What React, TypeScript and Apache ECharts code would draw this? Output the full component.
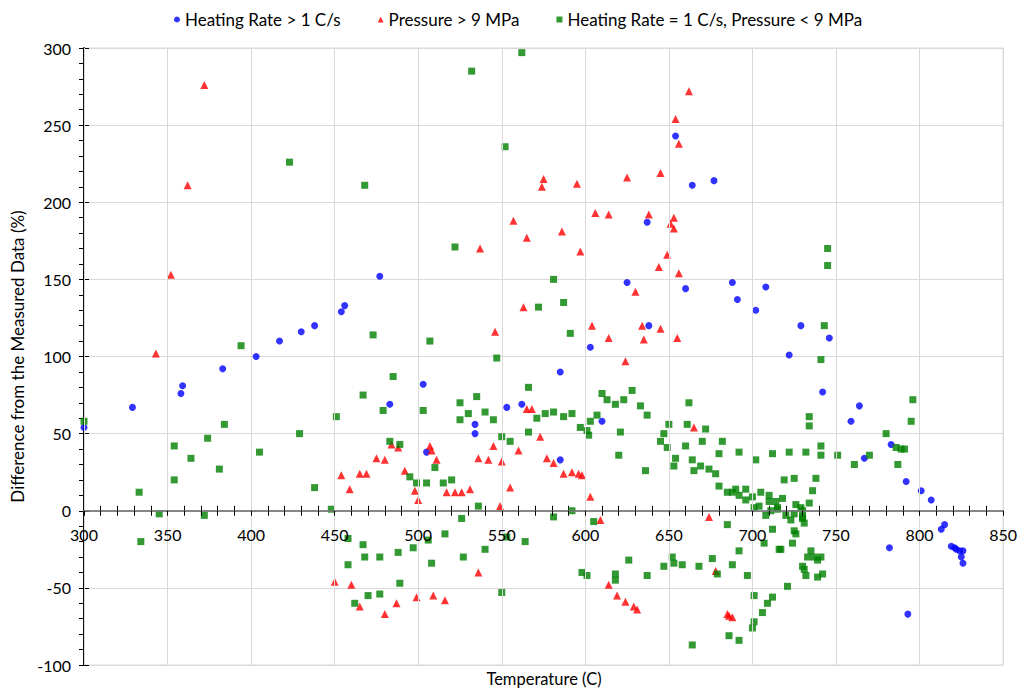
import React, { useEffect, useRef } from "react";
import * as echarts from "echarts";

const xTicks = { min: 300, max: 850, interval: 50 };
const yTicks = { min: -100, max: 300, interval: 50 };

const seriesNames = [
  "Heating Rate > 1 C/s",
  "Pressure > 9 MPa",
  "Heating Rate = 1 C/s, Pressure < 9 MPa",
];

const heatingRateHigh: [number, number][] = [
  [300, 54], [329, 67], [358, 76], [359, 81], [383, 92], [403, 100], [417, 110], [430, 116],
  [438, 120], [454, 129], [456, 133], [477, 152], [483, 69], [503, 82], [505, 38], [534, 56],
  [534, 50], [553, 67], [562, 69], [585, 90], [585, 33], [603, 106], [610, 58], [625, 148],
  [637, 187], [638, 120], [654, 243], [660, 144], [664, 211], [677, 214], [688, 148], [691, 137],
  [702, 130], [708, 145], [722, 101], [729, 120], [742, 77], [746, 112], [759, 58], [764, 68],
  [767, 34], [783, 43], [782, -24], [792, 19], [793, -67], [801, 13], [807, 7], [813, -12],
  [815, -9], [819, -23], [821, -24], [822, -25], [824, -26], [826, -26], [825, -30], [826, -34],
];

const pressureHigh: [number, number][] = [
  [343, 102], [352, 153], [362, 211], [372, 276], [450, -46], [454, 23], [459, 14], [460, -48],
  [465, 24], [465, -62], [469, 24], [475, 34], [480, 33], [480, -67], [484, 43], [487, -60],
  [488, 41], [492, 26], [498, 13], [499, -56], [500, 7], [507, 42], [508, 39], [509, -55],
  [511, 33], [516, -58], [517, 12], [522, 12], [526, 12], [531, 14], [536, 34], [536, -40],
  [537, 170], [542, 33], [545, 42], [546, 116], [549, 3], [550, 32], [555, 15], [557, 188],
  [560, 39], [563, 132], [565, 177], [565, 66], [568, 66], [573, 48], [574, 210], [575, 215],
  [577, 34], [581, 31], [586, 181], [587, 24], [592, 25], [595, 212], [596, 24], [598, 23],
  [597, 168], [603, 9], [604, 120], [606, 193], [609, -6], [614, 192], [614, 112], [614, -48],
  [619, -55], [624, 97], [624, -59], [625, 216], [629, -62], [631, -64], [630, 142], [634, 120],
  [635, 111], [638, 192], [644, 158], [645, 219], [645, 118], [649, 166], [651, 186], [653, 190],
  [653, 183], [654, 254], [655, 112], [656, 238], [656, 154], [662, 272], [665, 54], [674, -4],
  [678, -39], [685, -67], [686, -68], [688, -69],
];

const baseline: [number, number][] = [
  [300, 58], [384, 56], [374, 47], [354, 42], [429, 50], [405, 38], [364, 34], [381, 27],
  [438, 15], [354, 20], [333, 12], [345, -2], [372, -3], [334, -20], [394, 107], [423, 226],
  [562, 297], [532, 285], [552, 236], [468, 211], [522, 171], [572, 132], [473, 114], [507, 110],
  [547, 99], [485, 87], [467, 75], [566, 80], [451, 61], [479, 65], [503, 65], [525, 70],
  [535, 74], [530, 63], [540, 64], [525, 59], [545, 59], [571, 60], [576, 63], [550, 48],
  [566, 51], [555, 45], [483, 45], [489, 43], [510, 28], [495, 22], [520, 20], [499, 18],
  [505, 18], [515, 18], [536, 3], [448, 1], [526, -5], [458, -18], [467, -22], [516, -15],
  [506, -19], [553, -17], [564, -20], [468, -30], [477, -30], [488, -27], [497, -24], [458, -35],
  [508, -34], [527, -30], [540, -25], [489, -47], [550, -53], [477, -54], [470, -55], [462, -60],
  [581, 150], [587, 135], [591, 115], [610, 76], [613, 72], [618, 69], [623, 72], [628, 78],
  [633, 68], [637, 62], [581, 64], [587, 61], [592, 63], [607, 62], [603, 58], [597, 54],
  [601, 52], [602, 49], [621, 51], [662, 70], [650, 56], [661, 56], [672, 53], [647, 50],
  [645, 45], [660, 42], [670, 45], [682, 45], [649, 41], [620, 36], [680, 37], [692, 38],
  [702, 33], [712, 37], [654, 34], [653, 29], [664, 33], [669, 29], [665, 26], [674, 27],
  [636, 26], [678, 24], [680, 16], [685, 12], [688, 12], [690, 14], [692, 10], [696, 14],
  [696, 7], [700, 9], [705, 12], [710, 10], [710, 6], [714, 6], [701, 2], [704, 3],
  [711, 0], [715, 1], [708, -3], [592, 0], [581, -4], [605, -7], [685, -9], [712, -12],
  [707, -21], [716, -25], [692, -26], [626, -32], [652, -30], [653, -34], [658, -35], [647, -36],
  [668, -36], [676, -31], [688, -35], [679, -41], [598, -40], [601, -42], [618, -41], [618, -45],
  [637, -42], [697, -42], [701, -55], [712, -56], [709, -60], [706, -66], [701, -72], [700, -76],
  [686, -81], [692, -84], [664, -87], [745, 170], [745, 159], [743, 120], [741, 98], [796, 72],
  [795, 58], [780, 50], [786, 41], [789, 40], [791, 40], [787, 30], [770, 36], [761, 30],
  [751, 36], [741, 42], [741, 36], [734, 61], [734, 55], [722, 38], [732, 38], [719, 20],
  [725, 21], [738, 21], [736, 13], [718, 8], [715, 2], [726, 4], [729, 2], [730, 0],
  [734, 5], [720, -3], [723, -6], [725, -2], [730, -4], [730, -5], [731, -8], [725, -13],
  [726, -15], [724, -21], [717, -25], [735, -26], [733, -30], [737, -30], [739, -32], [741, -30],
  [730, -36], [731, -38], [732, -42], [739, -43], [742, -41], [721, -49],
];

const FONT = "Lato, 'Open Sans', sans-serif";

const GRID = { left: 84, top: 48, right: 16, bottom: 25 };
const H = 690;

export default function App() {
  const ref = useRef<HTMLDivElement>(null);
  useEffect(() => {
    document.body.style.margin = "0";
    if (!ref.current) return;
    const chart = echarts.init(ref.current, undefined, { renderer: "svg" });
    const plotH = H - GRID.top - GRID.bottom;
    const zeroFromTop = (plotH * (yTicks.max - 0)) / (yTicks.max - yTicks.min);
    const zeroFromBottom = plotH - zeroFromTop;
    const axisCommon = {
      type: "value" as const,
      min: xTicks.min,
      max: xTicks.max,
      interval: xTicks.interval,
    };
    const yCommon = {
      type: "value" as const,
      min: yTicks.min,
      max: yTicks.max,
      interval: yTicks.interval,
    };
    chart.setOption({
      animation: false,
      backgroundColor: "#fff",
      textStyle: { fontFamily: FONT },
      legend: {
        top: 6,
        left: 169,
        itemGap: 37,
        itemWidth: 6,
        itemHeight: 6,
        textStyle: { fontSize: 17, color: "#000", fontFamily: FONT },
        data: seriesNames,
      },
      grid: {
        ...GRID,
        show: true,
        borderColor: "#d9d9d9",
        borderWidth: 1,
      },
      xAxis: [
        {
          ...axisCommon,
          position: "bottom",
          offset: -zeroFromBottom,
          axisLine: { onZero: false, lineStyle: { color: "#7f7f7f", width: 1.5 } },
          axisTick: { show: true, length: 5, lineStyle: { color: "#000" } },
          minorTick: { show: true, splitNumber: 5, length: 5, lineStyle: { color: "#000" } },
          splitLine: { show: true, lineStyle: { color: "#d9d9d9", width: 1 } },
          axisLabel: { fontSize: 16, color: "#000", margin: 16, fontFamily: FONT },
          z: 3,
        },
        {
          ...axisCommon,
          position: "top",
          offset: -zeroFromTop,
          axisLine: { onZero: false, lineStyle: { color: "#7f7f7f", width: 1.5 } },
          axisTick: { show: true, length: 5, lineStyle: { color: "#000" } },
          minorTick: { show: true, splitNumber: 5, length: 5, lineStyle: { color: "#000" } },
          splitLine: { show: false },
          axisLabel: { show: false },
        },
      ],
      yAxis: [
        {
          ...yCommon,
          position: "left",
          name: "Difference from the Measured Data (%)",
          nameLocation: "middle",
          nameGap: 58,
          nameTextStyle: { fontSize: 17, color: "#000", fontFamily: FONT },
          axisLine: { show: true, onZero: false, lineStyle: { color: "#000", width: 1.5 } },
          axisTick: { show: true, length: 5, lineStyle: { color: "#000" } },
          minorTick: { show: true, splitNumber: 5, length: 5, lineStyle: { color: "#000" } },
          splitLine: { show: true, lineStyle: { color: "#d9d9d9", width: 1 } },
          axisLabel: { fontSize: 16, color: "#000", margin: 13, fontFamily: FONT },
        },
        {
          ...yCommon,
          position: "left",
          axisLine: { show: true, onZero: false, lineStyle: { color: "#000", width: 1.5 } },
          axisTick: { show: true, inside: true, length: 5, lineStyle: { color: "#000" } },
          minorTick: { show: false },
          splitLine: { show: false },
          axisLabel: { show: false },
        },
      ],
      graphic: [
        {
          type: "text",
          x: 544,
          y: 679,
          style: {
            text: "Temperature (C)",
            fill: "#000",
            font: `16.5px ${FONT}`,
            align: "center",
            verticalAlign: "middle",
          },
        },
      ],
      series: [
        {
          name: seriesNames[0],
          type: "scatter",
          symbol: "circle",
          symbolSize: 7,
          itemStyle: { color: "#0000ff" },
          data: heatingRateHigh,
        },
        {
          name: seriesNames[1],
          type: "scatter",
          symbol: "triangle",
          symbolSize: 8,
          itemStyle: { color: "#ff0000" },
          data: pressureHigh,
        },
        {
          name: seriesNames[2],
          type: "scatter",
          symbol: "rect",
          symbolSize: 7,
          itemStyle: { color: "#008000" },
          data: baseline,
        },
      ],
    });
    return () => chart.dispose();
  }, []);
  return <div ref={ref} style={{ width: 1020, height: 690 }} />;
}
